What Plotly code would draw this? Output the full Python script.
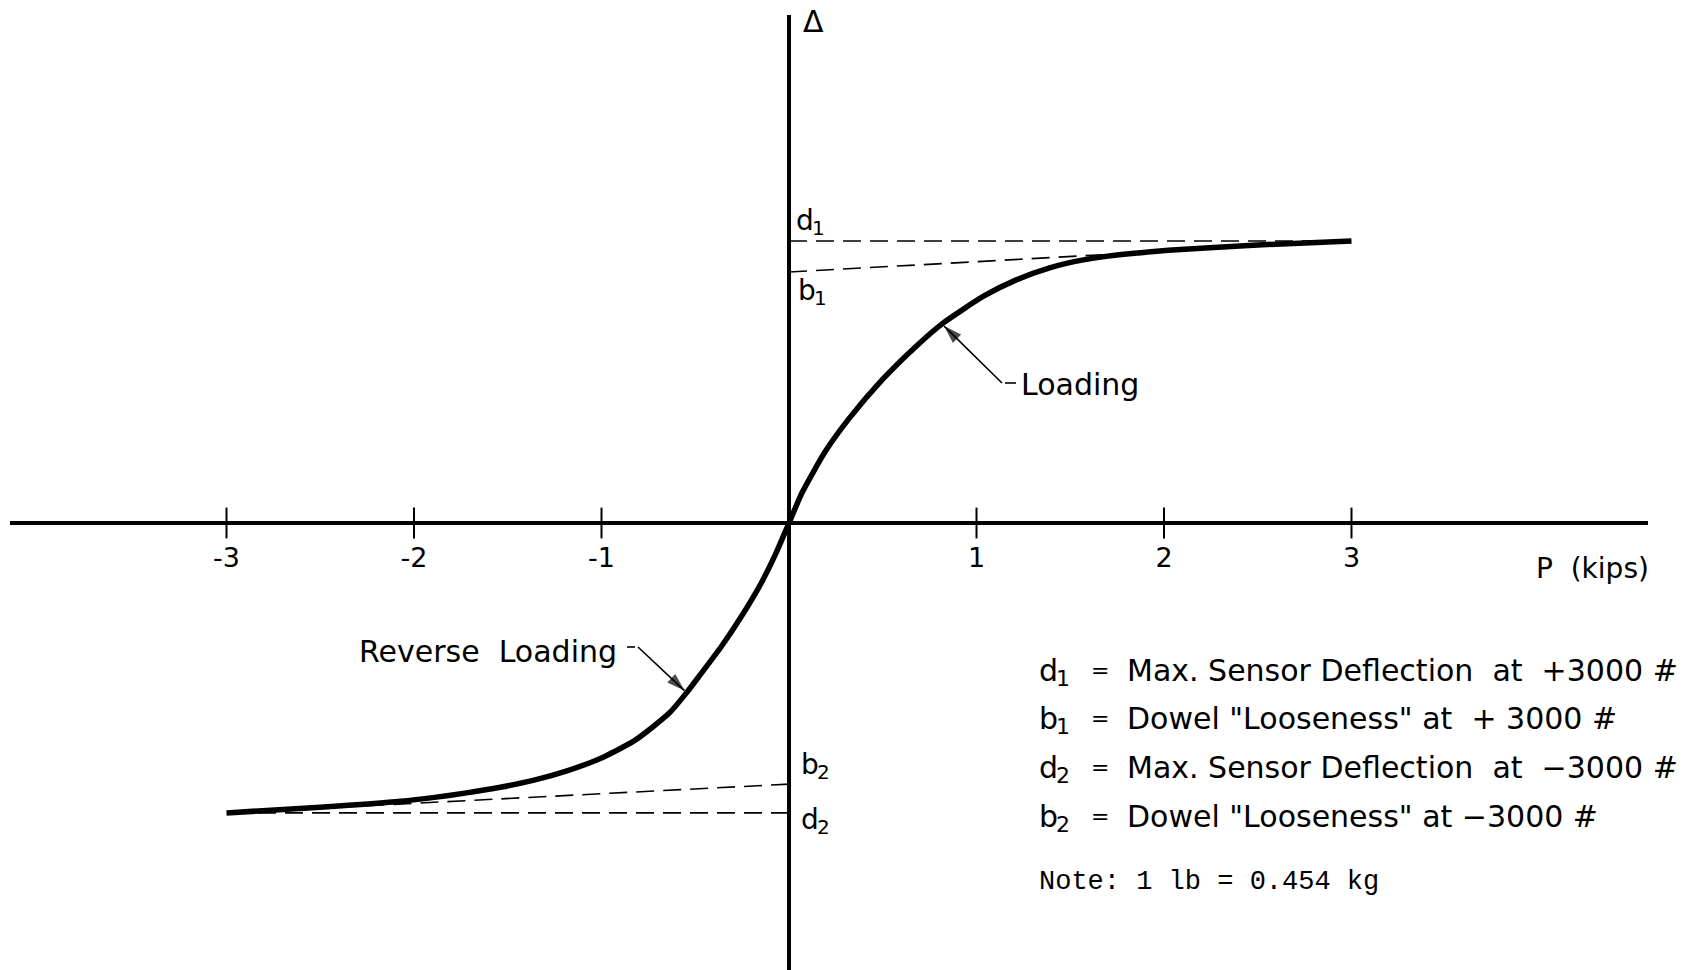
import numpy as np
import plotly.graph_objects as go

# Load P (kips) against sensor deflection Δ (relative units, d1 = 1)
load_kips = [-3.0, -2.5, -2.07, -1.89, -1.72, -1.54, -1.36, -1.18, -1.0, -0.82,
             -0.64, -0.55, -0.47, -0.36, -0.25, -0.145, -0.07,
             0.0, 0.07, 0.195, 0.32, 0.50, 0.68, 0.82, 1.04, 1.215, 1.39,
             1.57, 1.75, 1.93, 2.11, 2.5, 3.0]
deflection = [-1.028, -1.008, -0.987, -0.973, -0.957, -0.937, -0.912, -0.878, -0.833, -0.770,
              -0.675, -0.605, -0.535, -0.437, -0.327, -0.209, -0.108,
              0.0, 0.108, 0.255, 0.37, 0.51, 0.628, 0.708, 0.805, 0.863, 0.905,
              0.933, 0.950, 0.962, 0.971, 0.986, 1.0]

# Reference levels at +/-3000 lb
d1 = 1.0      # max sensor deflection at +3000 #
b1 = 0.89     # dowel looseness at +3000 #
d2 = -1.028   # max sensor deflection at -3000 #
b2 = -0.926   # dowel looseness at -3000 #
p_max = 3.0

tick_vals = [-3, -2, -1, 1, 2, 3]
tick_text = ["-3", "-2", "-1", "1", "2", "3"]

# symbol, subscript, definition
legend_rows = [
    ("d", "1", "Max. Sensor Deflection  at  +3000 #"),
    ("b", "1", 'Dowel "Looseness" at  + 3000 #'),
    ("d", "2", "Max. Sensor Deflection  at  \u22123000 #"),
    ("b", "2", 'Dowel "Looseness" at \u22123000 #'),
]
note_text = "Note: 1 lb = 0.454 kg"

# ---- page geometry (pixels) ----
W, H = 1692, 970
ORIGIN_X, ORIGIN_Y = 789.0, 523.0
KIP_PX, UNIT_PX = 187.5, 282.0
LEFT, RIGHT, TOP = 10, 1648, 15


def px_p(px):
    return (px - ORIGIN_X) / KIP_PX


def py_d(py):
    return (ORIGIN_Y - py) / UNIT_PX


x_range = [px_p(LEFT), px_p(RIGHT)]
y_range = [py_d(H), py_d(TOP)]
zero_pos = (0 - y_range[0]) / (y_range[1] - y_range[0])

FONT = "DejaVu Sans"
INK = "black"
DASH = "18px,9px"

fig = go.Figure()

# dashed construction lines for d1, b1, d2, b2
for xs, ys in [([0, p_max], [d1, d1]), ([0, p_max], [b1, d1]),
               ([0, -p_max], [d2, d2]), ([0, -p_max], [b2, d2])]:
    fig.add_trace(go.Scatter(x=xs, y=ys, mode="lines",
                             line=dict(color=INK, width=1.6, dash=DASH),
                             hoverinfo="skip"))

# load-deflection curve
fig.add_trace(go.Scatter(x=load_kips, y=deflection, mode="lines",
                         line=dict(color=INK, width=5.5, shape="spline", smoothing=0.6),
                         hoverinfo="skip"))

# tick marks crossing the P axis
fig.add_trace(go.Scatter(x=tick_vals, y=[0] * len(tick_vals), mode="markers",
                         marker=dict(symbol="line-ns", size=22,
                                     line=dict(width=2, color=INK)),
                         hoverinfo="skip"))

# leader lines with arrowheads pointing at the curve
load_tip_p = 0.816
rev_tip_p = -0.546
leaders = [
    ((px_p(1016), py_d(383)), (px_p(1002), py_d(383)), load_tip_p),
    ((px_p(627), py_d(647)), (px_p(638), py_d(647)), rev_tip_p),
]
for start, bend, tip_p in leaders:
    tip_d = float(np.interp(tip_p, load_kips, deflection))
    fig.add_trace(go.Scatter(
        x=[start[0], bend[0], tip_p], y=[start[1], bend[1], tip_d],
        mode="lines+markers",
        line=dict(color=INK, width=1.6),
        marker=dict(symbol="arrow", size=[0, 0, 19], angleref="previous",
                    standoff=3, color=INK, line=dict(width=0)),
        hoverinfo="skip"))

annotations = []


def label(text, px, py, xanchor="left", size=27, family=FONT):
    """Place a text with its anchor at page pixel (px, py)."""
    annotations.append(dict(text=text, x=px_p(px), y=py_d(py), xref="x", yref="y",
                            xanchor=xanchor, yanchor="middle", align="left",
                            showarrow=False,
                            font=dict(family=family, size=size, color=INK)))


def sub_label(letter, digit, px, py, size):
    """Letter with a lowered, smaller digit after it (d1, b2, ...)."""
    label(letter, px, py, size=size)
    label(digit, px + 0.635 * size - 2, py + 0.27 * size, size=round(size * 0.72))


label("\u0394", 813, 21, xanchor="center", size=30)
label("P  (kips)", 1592, 568, xanchor="center", size=28)
sub_label("d", "1", 794, 220, 28)
sub_label("b", "1", 796, 290, 28)
sub_label("b", "2", 799, 764, 28)
sub_label("d", "2", 799, 819, 28)
label("Loading", 1019, 384, size=30)
label("Reverse  Loading", 619, 651, xanchor="right", size=30)

for i, (letter, digit, text) in enumerate(legend_rows):
    y = 670 + 48.8 * i
    sub_label(letter, digit, 1037, y, 30)
    label("=", 1100, y, xanchor="center", size=22)
    label(text, 1125, y, size=30)
label(note_text, 1037, 882, size=27, family="Liberation Mono")

fig.update_layout(
    width=W, height=H,
    margin=dict(l=LEFT, r=W - RIGHT, t=TOP, b=0, pad=0),
    paper_bgcolor="white", plot_bgcolor="white",
    showlegend=False,
    font=dict(family=FONT, color=INK, size=27),
    annotations=annotations,
    xaxis=dict(range=x_range, showgrid=False, zeroline=True,
               zerolinecolor=INK, zerolinewidth=3.5,
               anchor="free", position=zero_pos, showline=False,
               tickmode="array", tickvals=tick_vals, ticktext=tick_text,
               ticks="", ticklabelstandoff=16,
               tickfont=dict(family=FONT, size=27, color=INK),
               fixedrange=True),
    yaxis=dict(range=y_range, showgrid=False, zeroline=True,
               zerolinecolor=INK, zerolinewidth=4,
               showticklabels=False, ticks="", showline=False,
               fixedrange=True),
)

fig.write_html("out.html")
